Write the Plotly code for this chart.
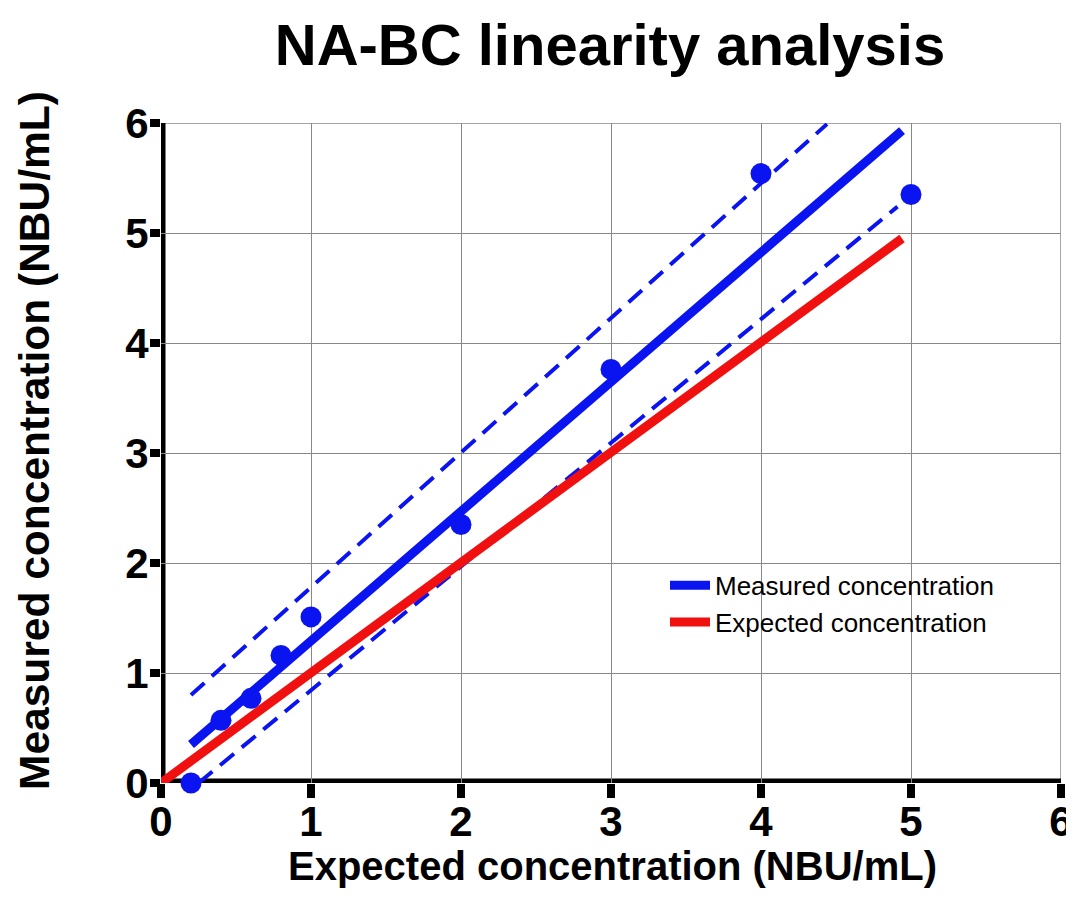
import plotly.graph_objects as go

# data
expected_x = [0.2, 0.4, 0.6, 0.8, 1.0, 2.0, 3.0, 4.0, 5.0]
measured_y = [0.0, 0.57, 0.77, 1.16, 1.51, 2.35, 3.76, 5.54, 5.35]

fit_x = [0.2, 4.94]
fit_y = [0.35, 5.93]
upper_x = [0.2, 4.44]
upper_y = [0.80, 5.99]
lower_x = [0.25, 4.91]
lower_y = [0.0, 5.24]
ident_x = [0.0, 4.94]
ident_y = [0.0, 4.95]

ticks = [0, 1, 2, 3, 4, 5, 6]

BLUE = '#0a14f0'
RED = '#f01010'
FONT = 'Liberation Sans, Arial, sans-serif'

fig = go.Figure()

fig.add_trace(go.Scatter(x=upper_x, y=upper_y, mode='lines', showlegend=False,
                         line=dict(color=BLUE, width=4, dash='18px,10px'), cliponaxis=False))
fig.add_trace(go.Scatter(x=lower_x, y=lower_y, mode='lines', showlegend=False,
                         line=dict(color=BLUE, width=4, dash='18px,10px'), cliponaxis=False))
fig.add_trace(go.Scatter(x=fit_x, y=fit_y, mode='lines', name='Measured concentration',
                         line=dict(color=BLUE, width=9), cliponaxis=False))
fig.add_trace(go.Scatter(x=expected_x, y=measured_y, mode='markers', showlegend=False,
                         marker=dict(color=BLUE, size=21), cliponaxis=False))
fig.add_trace(go.Scatter(x=ident_x, y=ident_y, mode='lines', name='Expected concentration',
                         line=dict(color=RED, width=9), cliponaxis=False))

# thick black axes centred on zero, plus thin grey frame
fig.add_shape(type='rect', x0=0, x1=6, y0=0, y1=6, layer='below',
              line=dict(color='#888888', width=1.5))
fig.add_shape(type='line', x0=-0.04, x1=6.03, y0=0, y1=0, layer='below',
              line=dict(color='black', width=9))
fig.add_shape(type='line', x0=0, x1=0, y0=-0.04, y1=6.04, layer='below',
              line=dict(color='black', width=9))

axis_common = dict(range=[0, 6], tickvals=ticks, ticktext=[str(t) for t in ticks],
                   showgrid=True, gridcolor='#888888', gridwidth=1.2,
                   zeroline=False, showline=False, automargin=False,
                   ticks='outside', tickwidth=8, tickcolor='black',
                   tickfont=dict(family=FONT, size=42, color='black', weight='bold'))

fig.update_xaxes(**axis_common, ticklen=14, ticklabelstandoff=-12)
fig.update_yaxes(**axis_common, ticklen=10, ticklabelstandoff=-7)

# axis titles
fig.add_annotation(text='Expected concentration (NBU/mL)', xref='paper', yref='paper',
                   x=(612 - 161) / 900, y=-(866 - 783) / 660, showarrow=False,
                   xanchor='center', yanchor='middle',
                   font=dict(family=FONT, size=40, color='black', weight='bold'))
fig.add_annotation(text='Measured concentration (NBU/mL)', xref='paper', yref='paper',
                   x=-(161 - 34) / 900, y=(783 - 441) / 660, showarrow=False, textangle=-90,
                   xanchor='center', yanchor='middle',
                   font=dict(family=FONT, size=42.5, color='black', weight='bold'))

# page body adds an 8px offset, so the figure is sized to fit the window
fig.update_layout(
    width=1066, height=893,
    margin=dict(l=153, r=13, t=115, b=118),
    plot_bgcolor='white', paper_bgcolor='white',
    title=dict(text='NA-BC linearity analysis', x=602 / 1066, xanchor='center',
               y=1 - 37 / 893, yanchor='middle',
               font=dict(family=FONT, size=58, color='black', weight='bold')),
    legend=dict(x=0.56, y=0.335, xanchor='left', yanchor='top',
                bgcolor='rgba(0,0,0,0)', itemwidth=40,
                font=dict(family=FONT, size=26, color='black')),
)

fig.write_html("out.html")
